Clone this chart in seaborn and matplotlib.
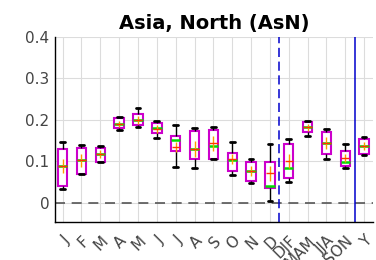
import numpy as np
import pandas as pd
import matplotlib
matplotlib.use("Agg")
import matplotlib.pyplot as plt
import seaborn as sns

labels = ["J", "F", "M", "A", "M", "J", "J", "A", "S", "O", "N", "D",
          "DJF", "MAM", "JJA", "SON", "Y"]
whisk_lo = [0.033, 0.070, 0.098, 0.176, 0.182, 0.157, 0.087, 0.083, 0.105, 0.068, 0.048, 0.005,
            0.050, 0.162, 0.107, 0.085, 0.115]
q1 = [0.041, 0.070, 0.098, 0.180, 0.188, 0.168, 0.124, 0.107, 0.105, 0.078, 0.052, 0.036,
      0.060, 0.170, 0.117, 0.089, 0.117]
med = [0.090, 0.104, 0.118, 0.190, 0.200, 0.180, 0.152, 0.130, 0.137, 0.103, 0.076, 0.040,
       0.085, 0.182, 0.145, 0.098, 0.137]
q3 = [0.129, 0.132, 0.132, 0.204, 0.215, 0.193, 0.162, 0.174, 0.176, 0.121, 0.099, 0.098,
      0.141, 0.194, 0.172, 0.125, 0.155]
whisk_hi = [0.146, 0.140, 0.137, 0.207, 0.229, 0.198, 0.188, 0.180, 0.184, 0.147, 0.105, 0.143,
            0.154, 0.198, 0.178, 0.141, 0.158]
means = [0.089, 0.103, 0.118, 0.190, 0.199, 0.178, 0.135, 0.130, 0.144, 0.105, 0.076, 0.072,
         0.101, 0.182, 0.145, 0.109, 0.137]
err = [0.017, 0.016, 0.010, 0.007, 0.010, 0.009, 0.013, 0.020, 0.018, 0.012, 0.012, 0.018,
       0.018, 0.008, 0.014, 0.010, 0.009]

rows = []
for i in range(len(labels)):
    for v in [whisk_lo[i], q1[i], med[i], q3[i], whisk_hi[i]]:
        rows.append({"grp": i, "val": v})
df = pd.DataFrame(rows)

sns.set_style("white")
fig = plt.figure(figsize=(3.76, 2.6), dpi=100)
ax = fig.add_axes([0.146, 0.146, 0.845, 0.712])

sns.boxplot(data=df, x="grp", y="val", ax=ax, whis=(0, 100), width=0.5,
            color="white", linewidth=1.3,
            boxprops=dict(edgecolor="#cc00cc", facecolor="white", lw=1.5),
            whiskerprops=dict(color="black", lw=1),
            capprops=dict(color="black", lw=2),
            medianprops=dict(color="#00dd00", lw=1.8),
            showfliers=False)

# grid after seaborn (it switches off the categorical grid)
ax.grid(True, color="#dcdcdc", lw=0.8)
ax.xaxis.grid(True, color="#dcdcdc", lw=0.8)
ax.set_axisbelow(True)

x = np.arange(len(labels))
ax.errorbar(x, means, yerr=err, fmt="none", ecolor="#ff9900", elinewidth=1, capsize=0, zorder=5)
ax.hlines(means, x - 0.22, x + 0.22, color="#ff3300", lw=1, zorder=5)

ax.axhline(0, color="#555555", ls=(0, (6, 4)), lw=1.2, zorder=1)
ax.axvline(11.5, color="#0000cc", ls=(0, (6, 3)), lw=1.1)
ax.axvline(15.5, color="#0000cc", lw=1.1)

ax.set_xlim(-0.41, 16.45)
ax.set_ylim(-0.046, 0.4)
ax.set_yticks([0, 0.1, 0.2, 0.3, 0.4])
ax.set_yticklabels(["0", "0.1", "0.2", "0.3", "0.4"])
ax.set_xticks(x)
ax.set_xticklabels(labels, rotation=45, ha="right", rotation_mode="anchor")
ax.tick_params(axis="both", labelsize=11, colors="#444444", length=0, pad=4)
ax.tick_params(axis="x", pad=8)
ax.set_xlabel("")
ax.set_ylabel("")
for s in ["top", "right"]:
    ax.spines[s].set_visible(False)
for s in ["left", "bottom"]:
    ax.spines[s].set_color("black")
    ax.spines[s].set_linewidth(1)
ax.set_title("Asia, North (AsN)", fontsize=14, fontweight="bold", color="black", pad=6)

fig.savefig("out.png", dpi=100)
